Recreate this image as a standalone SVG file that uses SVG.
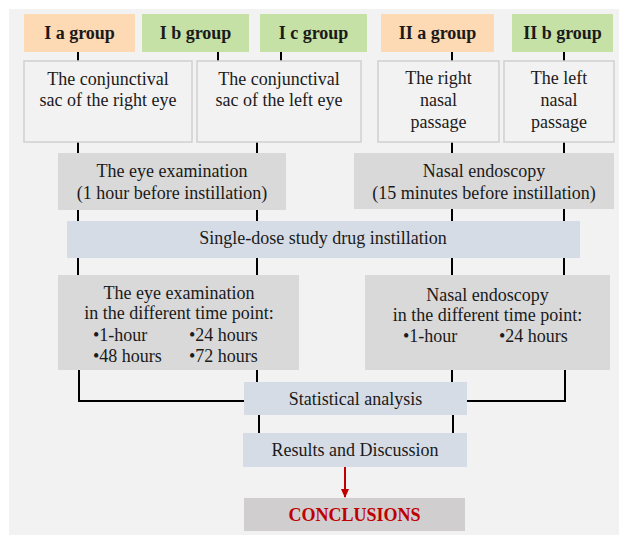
<svg xmlns="http://www.w3.org/2000/svg" width="619" height="535" viewBox="0 0 619 535">
<defs>
<style>
.t{font-family:"Liberation Serif","Times New Roman",serif;font-size:18px;fill:#1a1a1a;text-anchor:middle}
.b{font-weight:bold}
.orange{fill:#fdd9b4}
.green{fill:#c6e1a5}
.light{fill:#f2f2f2;stroke:#d0d0d0;stroke-width:1.5}
.gray{fill:#d9d9d9}
.blue{fill:#d6dce5}
.conc{fill:#d0cece}
.ln{stroke:#000;stroke-width:2;fill:none}
</style>
<marker id="ah" markerWidth="10" markerHeight="10" refX="8" refY="5" orient="auto" markerUnits="userSpaceOnUse">
<path d="M0,1 L9,5 L0,9 Z" fill="#c00000"/>
</marker>
</defs>
<rect x="0" y="0" width="619" height="535" fill="#ffffff"/>
<rect x="9" y="9" width="610" height="526" fill="#f2f2f2"/>

<g id="connectors">
<path class="ln" d="M78,52V61M218,52V61M281,52V61M452,52V61M564,52V61"/>
<path class="ln" d="M78,142V153M257,142V153M452,142V153M564,142V153"/>
<path class="ln" d="M78,210V221M257,210V221M452,209V221M564,209V221"/>
<path class="ln" d="M78,258V275M257,258V275M452,258V275M564,258V275"/>
<path class="ln" d="M79,370V401H244M257,370V382M452,370V382M565,370V401H467"/>
<path class="ln" d="M259,415V433M453,415V433"/>
<path d="M345,467V497" stroke="#c00000" stroke-width="2" fill="none" marker-end="url(#ah)"/>
</g>

<g id="Ia"><rect class="orange" x="24" y="14" width="111" height="38"/><text class="t b" x="79.5" y="39">I a group</text></g>
<g id="Ib"><rect class="green" x="142" y="14" width="107" height="38"/><text class="t b" x="195.5" y="39">I b group</text></g>
<g id="Ic"><rect class="green" x="260" y="14" width="107" height="38"/><text class="t b" x="313.5" y="39">I c group</text></g>
<g id="IIa"><rect class="orange" x="381" y="14" width="113" height="38"/><text class="t b" x="437.5" y="39">II a group</text></g>
<g id="IIb"><rect class="green" x="512" y="14" width="101" height="38"/><text class="t b" x="562.5" y="39">II b group</text></g>

<g id="rightEye"><rect class="light" x="24" y="61" width="168" height="81"/><text class="t" x="108" y="85">The conjunctival</text><text class="t" x="108" y="106">sac of the right eye</text></g>
<g id="leftEye"><rect class="light" x="197" y="61" width="164" height="81"/><text class="t" x="279" y="85">The conjunctival</text><text class="t" x="279" y="106">sac of the left eye</text></g>
<g id="rightNasal"><rect class="light" x="378" y="61" width="121" height="81"/><text class="t" x="438.5" y="84">The right</text><text class="t" x="438.5" y="106">nasal</text><text class="t" x="438.5" y="128">passage</text></g>
<g id="leftNasal"><rect class="light" x="504" y="61" width="110" height="81"/><text class="t" x="559" y="84">The left</text><text class="t" x="559" y="106">nasal</text><text class="t" x="559" y="128">passage</text></g>

<g id="eyeExam1"><rect class="gray" x="58" y="153" width="228" height="57"/><text class="t" x="172" y="177">The eye examination</text><text class="t" x="172" y="199">(1 hour before instillation)</text></g>
<g id="nasalEndo1"><rect class="gray" x="354" y="153" width="260" height="56"/><text class="t" x="484" y="177">Nasal endoscopy</text><text class="t" x="484" y="199">(15 minutes before instillation)</text></g>

<g id="instillation"><rect class="blue" x="67" y="221" width="513" height="37"/><text class="t" x="323" y="244">Single-dose study drug instillation</text></g>

<g id="eyeExam2"><rect class="gray" x="58" y="275" width="241" height="95"/>
<text class="t" x="179" y="299">The eye examination</text>
<text class="t" x="179" y="319">in the different time point:</text>
<text class="t" x="93" y="341" text-anchor="start" style="text-anchor:start">•1-hour</text>
<text class="t" x="189" y="341" style="text-anchor:start">•24 hours</text>
<text class="t" x="93" y="362" style="text-anchor:start">•48 hours</text>
<text class="t" x="189" y="362" style="text-anchor:start">•72 hours</text>
</g>
<g id="nasalEndo2"><rect class="gray" x="365" y="275" width="245" height="95"/>
<text class="t" x="487.5" y="301">Nasal endoscopy</text>
<text class="t" x="487.5" y="321">in the different time point:</text>
<text class="t" x="403" y="342" style="text-anchor:start">•1-hour</text>
<text class="t" x="499" y="342" style="text-anchor:start">•24 hours</text>
</g>

<g id="stats"><rect class="blue" x="244" y="382" width="223" height="33"/><text class="t" x="355.5" y="405">Statistical analysis</text></g>
<g id="results"><rect class="blue" x="243" y="433" width="224" height="34"/><text class="t" x="355" y="456">Results and Discussion</text></g>
<g id="conclusions"><rect class="conc" x="244" y="498" width="221" height="33"/><text class="t b" x="354.5" y="521" style="fill:#c00000">CONCLUSIONS</text></g>
</svg>
